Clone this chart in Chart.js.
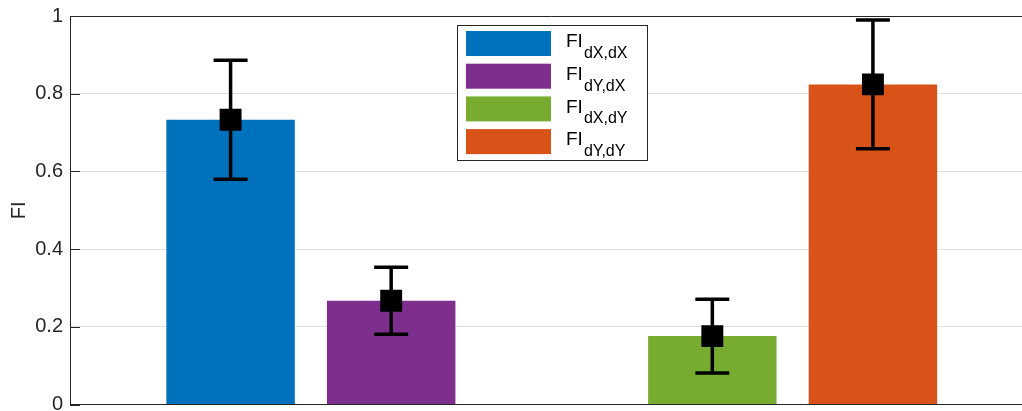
<!DOCTYPE html>
<html>
<head>
<meta charset="utf-8">
<script src="https://cdn.jsdelivr.net/npm/chart.js@4.4.1/dist/chart.umd.min.js"></script>
<style>
  html, body { margin: 0; padding: 0; background: #fff; overflow: hidden; }
  #wrap { position: absolute; left: 0; top: 0; width: 1049px; height: 430px; }
</style>
</head>
<body>
<div id="wrap"><canvas id="chart" width="1049" height="430"></canvas></div>
<script>
// Bar positions along the x axis and the measured FI values
const xPositions = [1, 2, 4, 5];
const fiMeans = [0.733, 0.267, 0.176, 0.824];
const fiErrors = [0.153, 0.086, 0.095, 0.166];

// Legend text: main symbol plus subscript for each series
const legendMain = 'FI';
const legendSubs = ['dX,dX', 'dY,dX', 'dX,dY', 'dY,dY'];
const barColors = ['#0072BD', '#7E2F8E', '#77AC30', '#D95319'];

// Y axis ticks and their labels
const yTicks = [0, 0.2, 0.4, 0.6, 0.8, 1];
const yTickLabels = ['0', '0.2', '0.4', '0.6', '0.8', '1'];

const AXIS_COLOR = '#262626';
const FONT = 'Liberation Sans, Arial, Helvetica, sans-serif';

const barDatasets = xPositions.map((x, i) => ({
  type: 'bar',
  label: legendMain + '_' + legendSubs[i],
  data: [{ x: x, y: fiMeans[i] }],
  backgroundColor: barColors[i],
  borderWidth: 0,
  grouped: false,
  categoryPercentage: 1,
  barPercentage: 0.8,
  order: 2
}));

const markerDataset = {
  type: 'line',
  label: 'mean',
  data: xPositions.map((x, i) => ({ x: x, y: fiMeans[i] })),
  showLine: false,
  pointStyle: 'rect',
  pointRadius: 15.5,
  pointHoverRadius: 15.5,
  pointBackgroundColor: '#000',
  pointBorderWidth: 0,
  order: 0
};

// Error bars drawn just before the mean markers
const errorBars = {
  id: 'errorBars',
  beforeDatasetDraw(chart, args) {
    if (args.meta.type !== 'line') return;
    const { ctx, scales: { x, y } } = chart;
    const capHalf = 17;
    ctx.save();
    ctx.strokeStyle = '#000';
    ctx.lineWidth = 3.5;
    ctx.lineCap = 'butt';
    xPositions.forEach((xv, i) => {
      const px = x.getPixelForValue(xv);
      const top = y.getPixelForValue(fiMeans[i] + fiErrors[i]);
      const bot = y.getPixelForValue(fiMeans[i] - fiErrors[i]);
      ctx.beginPath();
      ctx.moveTo(px, top); ctx.lineTo(px, bot);
      ctx.moveTo(px - capHalf, top); ctx.lineTo(px + capHalf, top);
      ctx.moveTo(px - capHalf, bot); ctx.lineTo(px + capHalf, bot);
      ctx.stroke();
    });
    ctx.restore();
  }
};

// Axes box: top edge, left edge and inward tick marks
const axesBox = {
  id: 'axesBox',
  afterDatasetsDraw(chart) {
    const { ctx, chartArea: a, scales: { y } } = chart;
    ctx.save();
    ctx.strokeStyle = AXIS_COLOR;
    ctx.lineWidth = 1;
    ctx.beginPath();
    ctx.moveTo(a.left, a.top + 0.5); ctx.lineTo(a.right, a.top + 0.5);
    ctx.moveTo(a.left + 0.5, a.top); ctx.lineTo(a.left + 0.5, a.bottom);
    yTicks.forEach(v => {
      const py = Math.round(y.getPixelForValue(v)) + 0.5;
      ctx.moveTo(a.left, py); ctx.lineTo(a.left + 10, py);
    });
    ctx.stroke();
    ctx.restore();
  }
};

// Boxed legend with subscripted labels
const subLegend = {
  id: 'subLegend',
  afterDraw(chart) {
    const { ctx } = chart;
    const box = { x: 457.5, y: 25.5, w: 190, h: 135 };
    const rowH = 32.7;
    ctx.save();
    ctx.fillStyle = '#fff';
    ctx.fillRect(box.x, box.y, box.w, box.h);
    ctx.strokeStyle = AXIS_COLOR;
    ctx.lineWidth = 1;
    ctx.strokeRect(box.x, box.y, box.w, box.h);
    legendSubs.forEach((sub, i) => {
      const cy = 43.5 + i * rowH;
      ctx.fillStyle = barColors[i];
      ctx.fillRect(466, cy - 12.5, 85, 25);
      ctx.fillStyle = '#000';
      ctx.textAlign = 'left';
      ctx.textBaseline = 'alphabetic';
      ctx.font = '19px ' + FONT;
      ctx.fillText(legendMain, 566, cy + 3.8);
      const w = ctx.measureText(legendMain).width;
      ctx.font = '16px ' + FONT;
      ctx.fillText(sub, 566 + w + 1, cy + 14.5);
    });
    ctx.restore();
  }
};

new Chart(document.getElementById('chart'), {
  data: { datasets: [...barDatasets, markerDataset] },
  options: {
    responsive: false,
    animation: false,
    devicePixelRatio: 1,
    layout: { padding: { left: 0, top: 16, right: 7, bottom: 25.5 } },
    plugins: { legend: { display: false }, tooltip: { enabled: false } },
    scales: {
      x: {
        type: 'linear',
        min: 0,
        max: 6,
        offset: false,
        z: 1,
        ticks: { display: false, stepSize: 1 },
        grid: { display: false, offset: false },
        border: { display: true, color: AXIS_COLOR, width: 1 },
        afterFit(scale) { scale.height = 0; }
      },
      y: {
        type: 'linear',
        min: 0,
        max: 1,
        afterBuildTicks(scale) { scale.ticks = yTicks.map(v => ({ value: v })); },
        ticks: {
          color: AXIS_COLOR,
          padding: 7,
          font: { family: FONT, size: 20 },
          callback: (value, index) => yTickLabels[index]
        },
        grid: {
          drawTicks: false,
          color: ctx => (ctx.tick && (ctx.tick.value === 0 || ctx.tick.value === 1)) ? 'rgba(0,0,0,0)' : '#dfdfdf',
          lineWidth: 1
        },
        border: { display: false },
        title: {
          display: true,
          text: 'FI',
          color: AXIS_COLOR,
          font: { family: FONT, size: 20 },
          padding: { top: 7.5, bottom: 0 }
        },
        afterFit(scale) {
          scale.width = 70;
          scale.paddingTop = 0;
          scale.paddingBottom = 0;
        }
      }
    }
  },
  plugins: [errorBars, axesBox, subLegend]
});
</script>
</body>
</html>
